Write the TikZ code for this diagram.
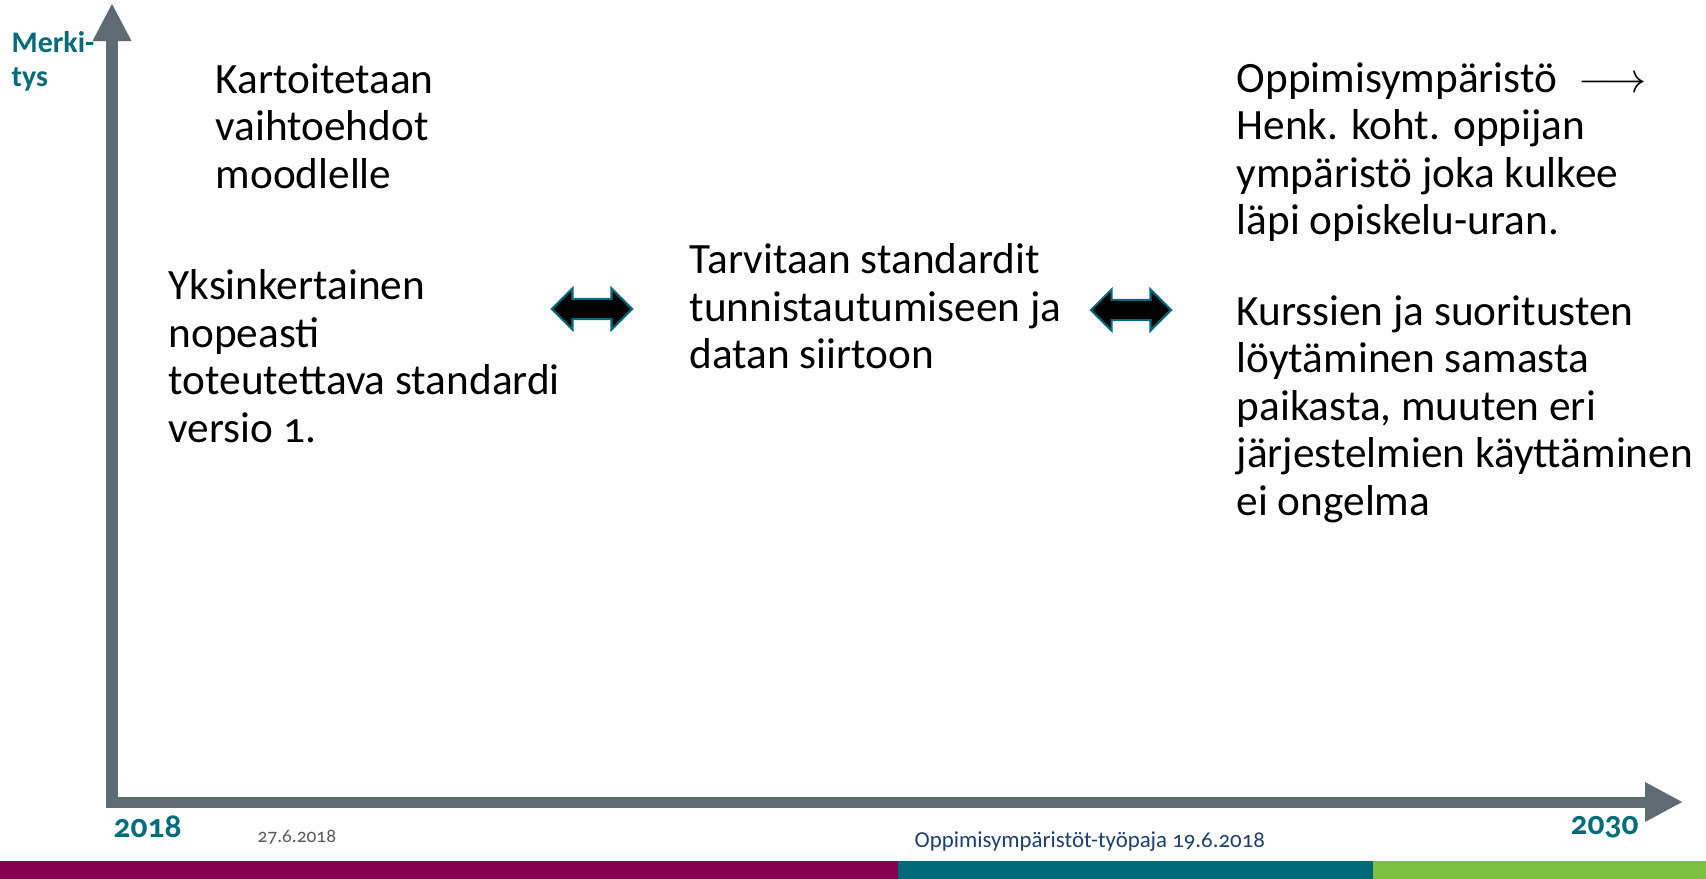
\documentclass[tikz,border=0pt]{standalone}
\usepackage{fontspec}
\setmainfont{Carlito}[Numbers=OldStyle]
\usetikzlibrary{arrows.meta,shapes.arrows}
\definecolor{axisgray}{HTML}{5F6B73}
\definecolor{labelteal}{HTML}{006B7A}
\definecolor{barpurple}{HTML}{84004F}
\definecolor{barteal}{HTML}{006878}
\definecolor{bargreen}{HTML}{7DC143}
\definecolor{footblue}{HTML}{1F3D6E}
\definecolor{dategray}{HTML}{595959}
\tikzset{
  axis/.style={draw=axisgray, line width=0.11cm, line join=miter,
    {Triangle[width=0.36cm,length=0.38cm]}-{Triangle[width=0.37cm,length=0.38cm]}},
  bodytext/.style={anchor=north west, inner sep=0, align=left,
    font=\fontsize{12.3pt}{13.5pt}\selectfont},
  axislabel/.style={anchor=north west, inner sep=0, align=left, text=labelteal,
    font=\fontsize{8.5pt}{9.7pt}\selectfont\bfseries},
  yearlabel/.style={anchor=west, inner sep=0, text=labelteal,
    font=\fontsize{9.5pt}{11pt}\selectfont\bfseries},
  linkarrow/.style={double arrow, draw=labelteal, fill=black, line width=0.6pt,
    inner xsep=0, inner ysep=0.09cm, minimum height=0.8cm,
    double arrow head extend=0.105cm}
}
\begin{document}
\begin{tikzpicture}[x=0.01cm, y=-0.01cm]
  \useasboundingbox (0,0) rectangle (1706,879);
  \coordinate (origin) at (112,802);
  \coordinate (ytip) at (112,3);
  \coordinate (xtip) at (1683,802);
  \draw[axis] (ytip) -- (origin) -- (xtip);

  \node[axislabel] (merkitys) at (11,31) {Merki-\\tys};
  \node[yearlabel] (start) at (113,827) {2018};
  \node[yearlabel] (end) at (1570,827) {2030};

  \node[bodytext] (moodle) at (215,63) {Kartoitetaan\\vaihtoehdot\\moodlelle};
  \node[bodytext] (simple) at (168,269) {Yksinkertainen\\nopeasti\\toteutettava standardi\\versio 1.};
  \node[bodytext] (standards) at (689,243) {Tarvitaan standardit\\tunnistautumiseen ja\\datan siirtoon};
  \node[bodytext] (personal) at (1236,62) {Oppimisympäristö\hspace{0.5em}$\longrightarrow$\\Henk. koht. oppijan\\ympäristö joka kulkee\\läpi opiskelu-uran.};
  \node[bodytext] (courses) at (1236,295) {Kurssien ja suoritusten\\löytäminen samasta\\paikasta, muuten eri\\järjestelmien käyttäminen\\ei ongelma};

  \node[linkarrow] (link1) at (592,309) {};
  \node[linkarrow] (link2) at (1131,310) {};

  \node[anchor=west, inner sep=0, text=dategray, font=\fontsize{5.5pt}{6pt}\selectfont] (date) at (257,837) {27.6.2018};
  \node[anchor=west, inner sep=0, text=footblue, font=\fontsize{6.5pt}{7pt}\selectfont] (footer) at (914,842) {Oppimisympäristöt-työpaja 19.6.2018};

  \foreach \xa/\xb/\col in {0/898/barpurple, 898/1373/barteal, 1373/1706/bargreen}{
    \fill[\col] (\xa,861) rectangle (\xb,879);
  }
\end{tikzpicture}
\end{document}
